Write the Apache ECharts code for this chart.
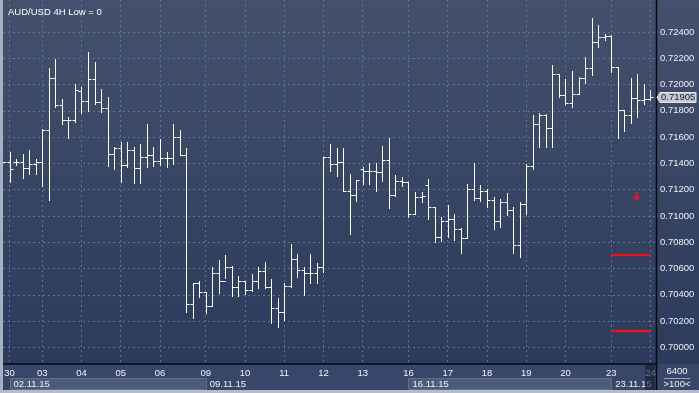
<!DOCTYPE html>
<html><head><meta charset="utf-8">
<script src="https://cdn.jsdelivr.net/npm/echarts@6/dist/echarts.min.js"></script>
<style>
html,body{margin:0;padding:0;background:#2d3b5d;}
#c{width:699px;height:393px;background:linear-gradient(to bottom,#43516d 0%,#2c3a5c 93%,#2c3a5c 100%);}
</style>
</head><body><div id="c"></div>
<script>
// ---- Data (bar index -1 .. 98, 4H bars) ----
const opens = [0.71413,
0.71413,0.71413,0.71413,0.71365,0.71395,0.71413,0.71654,0.72048,0.71847,0.71730,
0.71730,0.71953,0.71875,0.72040,0.71867,0.71819,0.71469,0.71515,0.71385,0.71502,
0.71367,0.71451,0.71462,0.71420,0.71439,0.71439,0.71599,0.71466,0.70327,0.70487,
0.70419,0.70317,0.70563,0.70502,0.70614,0.70457,0.70502,0.70436,0.70502,0.70579,
0.70457,0.70299,0.70266,0.70464,0.70670,0.70588,0.70563,0.70568,0.70609,0.71446,
0.71395,0.71413,0.71192,0.71157,0.71355,0.71342,0.71342,0.71332,0.71426,0.71162,
0.71266,0.71258,0.71015,0.71146,0.71233,0.71066,0.70840,0.70959,0.70974,0.70901,
0.70830,0.71203,0.71136,0.71190,0.71121,0.70961,0.71106,0.71045,0.70776,0.71091,
0.71380,0.71697,0.71768,0.71667,0.72078,0.71921,0.71857,0.71926,0.72052,0.72124,
0.72326,0.72360,0.72370,0.72131,0.71806,0.71766,0.71895,0.71882,0.71892];
const highs = [0.71413,
0.71489,0.71431,0.71471,0.71502,0.71430,0.71659,0.72126,0.72195,0.71888,0.71751,
0.72004,0.71979,0.72248,0.72172,0.71964,0.71903,0.71527,0.71563,0.71560,0.71527,
0.71548,0.71700,0.71527,0.71588,0.71489,0.71700,0.71656,0.71517,0.70492,0.70505,
0.70423,0.70609,0.70665,0.70703,0.70619,0.70543,0.70507,0.70558,0.70609,0.70649,
0.70520,0.70375,0.70492,0.70786,0.70710,0.70614,0.70710,0.70639,0.71451,0.71548,
0.71515,0.71515,0.71319,0.71273,0.71370,0.71401,0.71401,0.71532,0.71593,0.71312,
0.71299,0.71261,0.71180,0.71184,0.71279,0.71066,0.70990,0.71083,0.71015,0.70906,
0.71243,0.71405,0.71235,0.71203,0.71142,0.71127,0.71177,0.71068,0.71108,0.71395,
0.71768,0.71781,0.71776,0.72149,0.72078,0.72040,0.72106,0.72060,0.72207,0.72504,
0.72453,0.72385,0.72377,0.72131,0.71806,0.72048,0.72080,0.72004,0.71959];
const lows = [0.71413,
0.71261,0.71388,0.71285,0.71319,0.71319,0.71228,0.71121,0.71831,0.71700,0.71596,
0.71717,0.71781,0.71801,0.71852,0.71793,0.71382,0.71360,0.71261,0.71375,0.71248,
0.71253,0.71375,0.71380,0.71385,0.71370,0.71395,0.71464,0.70271,0.70225,0.70381,
0.70263,0.70317,0.70416,0.70530,0.70391,0.70393,0.70406,0.70429,0.70449,0.70454,
0.70187,0.70157,0.70208,0.70461,0.70537,0.70398,0.70487,0.70492,0.70575,0.71342,
0.71306,0.71192,0.70862,0.71116,0.71243,0.71243,0.71192,0.71268,0.71060,0.71152,
0.71230,0.70994,0.71015,0.71104,0.70977,0.70804,0.70809,0.70842,0.70817,0.70716,
0.70830,0.71121,0.71116,0.71066,0.70903,0.70918,0.71007,0.70720,0.70685,0.71015,
0.71355,0.71527,0.71527,0.71527,0.71903,0.71852,0.71831,0.71926,0.72014,0.72073,
0.72288,0.72339,0.72098,0.71591,0.71649,0.71705,0.71751,0.71850,0.71882];
const closes = [0.71413,
0.71355,0.71413,0.71365,0.71395,0.71413,0.71654,0.72048,0.71847,0.71730,0.71730,
0.71959,0.71875,0.72040,0.71867,0.71819,0.71469,0.71515,0.71385,0.71502,0.71367,
0.71451,0.71462,0.71420,0.71439,0.71439,0.71599,0.71466,0.70327,0.70487,0.70419,
0.70317,0.70563,0.70502,0.70614,0.70457,0.70502,0.70436,0.70502,0.70579,0.70457,
0.70299,0.70266,0.70464,0.70670,0.70588,0.70563,0.70568,0.70609,0.71446,0.71395,
0.71413,0.71192,0.71157,0.71273,0.71342,0.71342,0.71332,0.71426,0.71162,0.71266,
0.71258,0.71015,0.71146,0.71152,0.71066,0.70840,0.70959,0.70974,0.70901,0.70830,
0.71203,0.71136,0.71190,0.71121,0.70961,0.71106,0.71045,0.70776,0.71091,0.71380,
0.71697,0.71768,0.71667,0.72078,0.71921,0.71857,0.71926,0.72052,0.72124,0.72326,
0.72360,0.72370,0.72131,0.71806,0.71766,0.71895,0.71882,0.71892,0.71905];

// x category slots: bar -1 .. 99 (last slot empty)
const categories = Array.from({length: opens.length + 1}, (_, k) => 'bar' + (k - 1));
// day labels (bar index where the day starts)
const dayStarts = [0, 5, 11, 17, 23, 30, 36, 42, 48, 54, 61, 67, 73, 79, 85, 92, 98];
const dayLabels = ['30','03','04','05','06','09','10','11','12','13','16','17','18','19','20','23','24'];
const weekStarts = [0, 30, 61, 92];
const weekLabels = ['02.11.15','09.11.15','16.11.15','23.11.15'];
const yTicks = [0.700,0.702,0.704,0.706,0.708,0.710,0.712,0.714,0.716,0.718,0.720,0.722,0.724];
const yMin = 0.698729, yMax = 0.726436;
// red level lines (bar range and price) and signal arrow (bar, tip price)
const levelBars = [92, 98];
const levelPrices = [0.70703, 0.70124];
const arrowBar = 96, arrowPrice = 0.71121;
const lastPrice = 0.71905;

const FONT = '"Liberation Sans", Arial, sans-serif';
const dayMap = {}; dayStarts.forEach((b, i) => dayMap[b + 1] = dayLabels[i]);
const weekMap = {}; weekStarts.forEach((b, i) => weekMap[b + 1] = weekLabels[i]);

const ohlc = opens.map((o, k) => [k, o, closes[k], lows[k], highs[k]]);

const chart = echarts.init(document.getElementById('c'));
chart.setOption({
  animation: false,
  backgroundColor: 'transparent',
  title: { text: 'AUD/USD 4H Low = 0', left: 3, top: 2,
    textStyle: { color: '#ffffff', fontSize: 9.5, fontWeight: 'normal', fontFamily: FONT } },
  grid: { left: 3, right: 42, top: 0, bottom: 29 },
  xAxis: [{
    type: 'category', data: categories, boundaryGap: false,
    axisLine: { lineStyle: { color: '#070b16', width: 1.5 } },
    axisTick: { show: false },
    axisLabel: { interval: (i) => dayMap[i] !== undefined, formatter: (v, i) => dayMap[i] || '',
      color: '#f2f2f2', fontSize: 9.5, fontFamily: FONT, margin: 4 },
    splitLine: { show: true, interval: (i) => dayMap[i] !== undefined,
      lineStyle: { color: '#61729a', type: [2, 3], width: 1 } }
  }, {
    type: 'category', data: categories, boundaryGap: false, position: 'bottom', offset: 13,
    axisLine: { show: false }, axisTick: { show: false }, splitLine: { show: false },
    axisLabel: { interval: (i) => weekMap[i] !== undefined, formatter: (v, i) => weekMap[i] || '',
      align: 'left', padding: [0, 0, 0, 4], color: '#f2f2f2', fontSize: 9.5, fontFamily: FONT, margin: 2 }
  }],
  yAxis: {
    type: 'value', position: 'right', min: yMin, max: yMax, scale: true,
    axisLine: { show: false },
    axisTick: { show: false, customValues: yTicks },
    axisLabel: { customValues: yTicks, formatter: (v) => v.toFixed(5), margin: 3,
      color: '#eef0f4', fontSize: 9.5, fontFamily: FONT },
    splitLine: { show: true, lineStyle: { color: '#61729a', type: [2, 3], width: 1 } }
  },
  series: [{
    type: 'custom', xAxisIndex: 0, yAxisIndex: 0,
    encode: { x: 0, y: [1, 2, 3, 4] },
    data: ohlc,
    renderItem: function (params, api) {
      const x = api.value(0);
      const pO = api.coord([x, api.value(1)]);
      const pC = api.coord([x, api.value(2)]);
      const pL = api.coord([x, api.value(3)]);
      const pH = api.coord([x, api.value(4)]);
      const cx = Math.round(pH[0]) + 0.5;
      const r = (v) => Math.round(v) + 0.5;
      const st = { stroke: '#ffffff', lineWidth: 1 };
      return { type: 'group', children: [
        { type: 'line', shape: { x1: cx, y1: Math.round(pH[1]), x2: cx, y2: Math.round(pL[1]) + 1 }, style: st },
        { type: 'line', shape: { x1: cx - 3, y1: r(pO[1]), x2: cx, y2: r(pO[1]) }, style: st },
        { type: 'line', shape: { x1: cx, y1: r(pC[1]), x2: cx + 3, y2: r(pC[1]) }, style: st }
      ]};
    }
  },
  ...levelPrices.map(p => ({
    type: 'line', symbol: 'none', silent: true,
    lineStyle: { color: '#e0161a', width: 2.5 },
    data: [[levelBars[0] + 1, p], [levelBars[1] + 1, p]]
  })),
  {
    type: 'custom', silent: true,
    data: [[arrowBar + 1, arrowPrice]],
    renderItem: function (params, api) {
      const p = api.coord([api.value(0), api.value(1)]);
      const tx = Math.round(p[0]) - 0.5, ty = Math.round(p[1]);
      const st = { stroke: '#ff1212', lineWidth: 1.6, fill: null };
      return { type: 'group', children: [
        { type: 'line', shape: { x1: tx, y1: ty - 8, x2: tx, y2: ty }, style: st },
        { type: 'polyline', shape: { points: [[tx - 3, ty - 3.5], [tx, ty - 0.5], [tx + 3, ty - 3.5]] }, style: st }
      ]};
    }
  }]
});

// ---- frame decorations placed through the axes ----
const px = (bar) => chart.convertToPixel({ xAxisIndex: 0 }, bar + 1);
const py = (v) => chart.convertToPixel({ yAxisIndex: 0 }, v);
const axisY = 364, rowY = 378, baseY = 390, rightX = 657;
const g = [];
g.push({ type: 'rect', z: -3, shape: { x: 3, y: axisY, width: 699, height: baseY - axisY }, style: { fill: '#38466a' } });
for (let w = 0; w < weekStarts.length; w += 2) {
  const x1 = px(weekStarts[w]), x2 = px(weekStarts[w + 1]);
  g.push({ type: 'rect', z: -2, shape: { x: Math.round(x1) + 0.5, y: rowY + 0.5, width: Math.round(x2 - x1), height: baseY - rowY - 1 },
    style: { fill: '#4b5b7c', stroke: '#5e6e8f', lineWidth: 1 } });
}
// current-bar highlight
const cxLast = px(dayStarts[dayStarts.length - 1]);
g.push({ type: 'rect', z: 100, shape: { x: Math.round(cxLast) - 5, y: axisY + 1, width: 10, height: baseY - axisY - 1 },
  style: { fill: 'rgba(20,28,50,0.62)' } });
// right border line
g.push({ type: 'line', z: 50, shape: { x1: rightX - 0.5, y1: 0, x2: rightX - 0.5, y2: baseY }, style: { stroke: '#05080f', lineWidth: 1.5 } });
// outer frame
g.push({ type: 'rect', z: 60, shape: { x: 0, y: 0, width: 3, height: 393 }, style: { fill: '#a6b0c0' } });
g.push({ type: 'rect', z: 60, shape: { x: 0, y: baseY, width: 699, height: 3 }, style: { fill: '#b6bdc8' } });
// last price tag
const yl = Math.round(py(lastPrice)) + 0.5;
g.push({ type: 'polygon', z: 70, shape: { points: [[rightX, yl], [rightX + 3, yl - 5], [696, yl - 5], [696, yl + 5], [rightX + 3, yl + 5]] },
  style: { fill: '#c6cad2', stroke: '#e4e6ea', lineWidth: 1 } });
g.push({ type: 'text', z: 71, x: rightX + 4, y: yl, style: { text: lastPrice.toFixed(5), fill: '#141c2c', fontSize: 9.5, fontFamily: FONT, verticalAlign: 'middle', align: 'left' } });
// bottom-right info
g.push({ type: 'text', z: 71, x: 677, y: 371, style: { text: '6400', fill: '#f2f2f2', fontSize: 9.5, fontFamily: FONT, align: 'center', verticalAlign: 'middle' } });
g.push({ type: 'line', z: 71, shape: { x1: 664, y1: 378.5, x2: 690, y2: 378.5 }, style: { stroke: '#9aa4b8', lineWidth: 1 } });
g.push({ type: 'text', z: 71, x: 677, y: 384, style: { text: '>100<', fill: '#f2f2f2', fontSize: 9.5, fontFamily: FONT, align: 'center', verticalAlign: 'middle' } });
chart.setOption({ graphic: g });
</script></body></html>
